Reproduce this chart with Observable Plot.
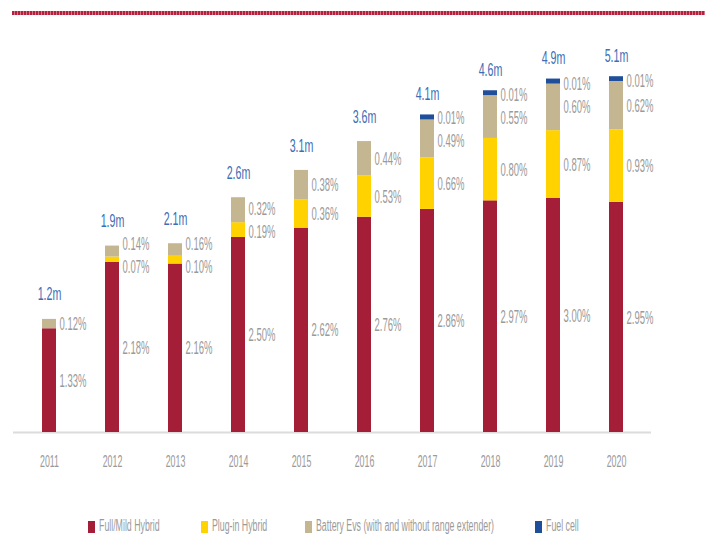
<!DOCTYPE html>
<html>
<head>
<meta charset="utf-8">
<script src="https://cdn.jsdelivr.net/npm/d3@7"></script>
<script src="https://cdn.jsdelivr.net/npm/@observablehq/plot@0.6"></script>
<style>
  html, body { margin: 0; padding: 0; background: #fff; }
  #wrap { position: relative; width: 705px; height: 543px; overflow: hidden; font-family: "Liberation Sans", Arial, sans-serif; }
  #topline { position: absolute; top: 11px; left: 12px; right: 0; height: 4px;
    background: repeating-linear-gradient(90deg, #b3213c 0 2px, #d77487 2px 3px); }
  #chart { position: absolute; top: 0; left: 0; }
  .legend-item { position: absolute; top: 519px; height: 16px; white-space: nowrap; }
  .legend-item .sw { position: absolute; left: 0; top: 2px; width: 7px; height: 12px; }
  .legend-item .lb { position: absolute; left: 11px; top: -2px; font-size: 16px; color: #9a9a9a;
    display: inline-block; transform: scaleX(0.55); transform-origin: left center; }
</style>
</head>
<body>
<div id="wrap">
  <div id="topline"></div>
  <div id="chart"></div>
  <div id="legend"></div>
</div>
<script>
// ---- data ----
const years = ["2011","2012","2013","2014","2015","2016","2017","2018","2019","2020"];
const seriesNames = ["Full/Mild Hybrid","Plug-in Hybrid","Battery Evs (with and without range extender)","Fuel cell"];
const fullMild = [1.33, 2.18, 2.16, 2.50, 2.62, 2.76, 2.86, 2.97, 3.00, 2.95];
const plugIn   = [0,    0.07, 0.10, 0.19, 0.36, 0.53, 0.66, 0.80, 0.87, 0.93];
const battery  = [0.12, 0.14, 0.16, 0.32, 0.38, 0.44, 0.49, 0.55, 0.60, 0.62];
const fuelCell = [0,    0,    0,    0,    0,    0,    0.01, 0.01, 0.01, 0.01];
const totals   = ["1.2m","1.9m","2.1m","2.6m","3.1m","3.6m","4.1m","4.6m","4.9m","5.1m"];
const colors   = ["#a51e38", "#ffd200", "#c5b692", "#1f4f9b"];

// ---- layout ----
const W = 705, H = 490, mTop = 42, mBottom = 58, mLeft = 13, mRight = 54, yMax = 5;
const pxPerUnit = (H - mBottom - mTop) / yMax;
const minGap = 23 / pxPerUnit;

const series = [fullMild, plugIn, battery, fuelCell];
const segs = [];
const labels = [];
const tops = [];
years.forEach((yr, i) => {
  let acc = 0;
  const ls = [];
  series.forEach((arr, s) => {
    const v = arr[i];
    if (v > 0) {
      segs.push({year: yr, type: seriesNames[s], y1: acc, y2: acc + v});
      ls.push({year: yr, ly: acc + v / 2, text: v.toFixed(2) + "%"});
    }
    acc += v;
  });
  for (let it = 0; it < 60; it++) {
    for (let k = 1; k < ls.length; k++) {
      const d = ls[k].ly - ls[k - 1].ly;
      if (d < minGap) { const sh = (minGap - d) / 2; ls[k].ly += sh; ls[k - 1].ly -= sh; }
    }
  }
  labels.push(...ls);
  tops.push({year: yr, top: acc, text: totals[i]});
});

const plot = Plot.plot({
  width: W, height: H,
  marginTop: mTop, marginBottom: mBottom, marginLeft: mLeft, marginRight: mRight,
  style: {fontFamily: "Liberation Sans, Arial, sans-serif", background: "transparent"},
  x: {domain: years, paddingInner: 0.78, paddingOuter: 0.39, tickSize: 0, tickPadding: 22, label: null},
  y: {domain: [0, yMax], axis: null},
  color: {domain: seriesNames, range: colors},
  marks: [
    Plot.ruleY([0], {stroke: "#dcdcdc", strokeWidth: 2}),
    Plot.barY(segs, {x: "year", y1: "y1", y2: "y2", fill: "type"}),
    Plot.barY(segs.filter(d => d.type === "Fuel cell"), {x: "year", y1: "y1", y2: "y2", fill: "type", insetTop: -4}),
    Plot.text(labels, {x: "year", y: "ly", text: "text", textAnchor: "start", dx: 10, fill: "#9a9a9a", fontSize: 19, className: "seglab"}),
    Plot.text(tops, {x: "year", y: "top", text: "text", textAnchor: "middle", dy: -25, fill: "#3d6db4", fontSize: 19, className: "totlab"})
  ]
});
document.getElementById("chart").appendChild(plot);

// x-axis label styling
const axisTexts = plot.querySelectorAll("g[aria-label='x-axis'] text, g[aria-label='x-axis tick label'] text");
axisTexts.forEach(t => { t.setAttribute("fill", "#9a9a9a"); t.style.fontSize = "17px"; });

// condense text glyphs (the reference uses a very narrow, tall typeface)
function condense(nodes, k) {
  nodes.forEach(t => {
    const len = t.getComputedTextLength();
    if (len > 0) { t.setAttribute("textLength", (len * k).toFixed(1)); t.setAttribute("lengthAdjust", "spacingAndGlyphs"); }
  });
}
condense(plot.querySelectorAll(".seglab text"), 0.5);
condense(plot.querySelectorAll(".totlab text"), 0.56);
condense(axisTexts, 0.52);

// legend
const legendX = [88, 201, 305, 535];
const legend = document.getElementById("legend");
seriesNames.forEach((name, i) => {
  const item = document.createElement("div");
  item.className = "legend-item";
  item.style.left = legendX[i] + "px";
  item.innerHTML = `<span class="sw" style="background:${colors[i]}"></span><span class="lb">${name}</span>`;
  legend.appendChild(item);
});
</script>
</body>
</html>
